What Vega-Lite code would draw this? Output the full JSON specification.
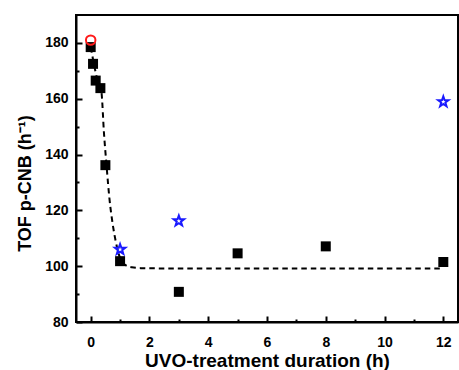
{
  "$schema": "https://vega.github.io/schema/vega-lite/v6.json",
  "width": 382,
  "height": 307,
  "autosize": "none",
  "padding": {"left": 76, "top": 15, "right": 1, "bottom": 48},
  "background": "white",
  "config": {
    "view": {"stroke": "black", "strokeWidth": 2},
    "font": "Liberation Sans",
    "axis": {
      "grid": false,
      "domainColor": "black",
      "domainWidth": 2,
      "tickColor": "black",
      "tickWidth": 2,
      "labelFont": "Liberation Sans",
      "labelFontWeight": "bold",
      "labelFontSize": 14,
      "labelColor": "black",
      "titleFont": "Liberation Sans",
      "titleFontWeight": "bold",
      "titleColor": "black"
    }
  },
  "datasets": {
    "squares": [
      {"t": 0, "tof": 178.5},
      {"t": 0.08, "tof": 172.5},
      {"t": 0.17, "tof": 166.5},
      {"t": 0.33, "tof": 163.8},
      {"t": 0.5, "tof": 136.2},
      {"t": 1, "tof": 101.8},
      {"t": 3, "tof": 90.8},
      {"t": 5, "tof": 104.6},
      {"t": 8, "tof": 107.1},
      {"t": 12, "tof": 101.5}
    ],
    "stars": [
      {"t": 1, "tof": 106},
      {"t": 3, "tof": 116.2},
      {"t": 12, "tof": 158.9}
    ],
    "circle": [
      {"t": 0, "tof": 181}
    ],
    "fit": [
      {"t": 0, "tof": 178.5},
      {"t": 0.1, "tof": 173},
      {"t": 0.2, "tof": 168},
      {"t": 0.3, "tof": 165},
      {"t": 0.37, "tof": 162},
      {"t": 0.45, "tof": 148},
      {"t": 0.54, "tof": 136},
      {"t": 0.64, "tof": 124},
      {"t": 0.75, "tof": 115},
      {"t": 0.85, "tof": 109},
      {"t": 0.95, "tof": 104.5},
      {"t": 1.05, "tof": 101.8},
      {"t": 1.2, "tof": 100.3},
      {"t": 1.4, "tof": 99.6},
      {"t": 1.7, "tof": 99.3},
      {"t": 2.5, "tof": 99.2},
      {"t": 12, "tof": 99.2}
    ],
    "minor": [
      {"t": 1, "tof": 90}
    ]
  },
  "resolve": {"axis": {"x": "independent", "y": "independent"}},
  "layer": [
    {
      "data": {"name": "minor"},
      "mark": {"type": "point", "opacity": 0},
      "encoding": {
        "x": {"field": "t", "type": "quantitative", "scale": {"domain": [-0.5, 12.5], "nice": false, "zero": false},
          "axis": {"orient": "bottom", "values": [1, 3, 5, 7, 9, 11], "labels": false, "domain": false, "tickSize": -3, "title": null}},
        "y": {"field": "tof", "type": "quantitative", "scale": {"domain": [80, 190], "nice": false, "zero": false},
          "axis": {"orient": "left", "values": [90, 110, 130, 150, 170], "labels": false, "domain": false, "tickSize": -3, "title": null}}
      }
    },
    {
      "data": {"name": "fit"},
      "mark": {"type": "line", "color": "black", "strokeWidth": 2, "strokeDash": [5.5, 4], "interpolate": "monotone"},
      "encoding": {
        "x": {"field": "t", "type": "quantitative", "scale": {"domain": [-0.5, 12.5], "nice": false, "zero": false},
          "axis": {"orient": "bottom", "values": [0, 2, 4, 6, 8, 10, 12], "tickSize": -6, "labelPadding": 19, "titleFontSize": 19, "titlePadding": 2, "title": "UVO-treatment duration (h)"}},
        "y": {"field": "tof", "type": "quantitative", "scale": {"domain": [80, 190], "nice": false, "zero": false},
          "axis": {"orient": "left", "values": [80, 100, 120, 140, 160, 180], "tickSize": -6, "labelPadding": 14, "titleFontSize": 18, "titlePadding": 10, "titleY": 168, "title": "TOF p-CNB (h⁻¹)"}}
      }
    },
    {
      "data": {"name": "squares"},
      "mark": {"type": "point", "shape": "square", "filled": true, "color": "black", "size": 100, "opacity": 1},
      "encoding": {
        "x": {"field": "t", "type": "quantitative", "axis": null},
        "y": {"field": "tof", "type": "quantitative", "axis": null}
      }
    },
    {
      "data": {"name": "stars"},
      "mark": {"type": "point", "shape": "M0,-1L0.235,-0.324L0.951,-0.309L0.380,0.124L0.588,0.809L0,0.4L-0.588,0.809L-0.380,0.124L-0.951,-0.309L-0.235,-0.324Z", "filled": false, "stroke": "#1a1aff", "strokeWidth": 2, "size": 120, "opacity": 1},
      "encoding": {
        "x": {"field": "t", "type": "quantitative", "axis": null},
        "y": {"field": "tof", "type": "quantitative", "axis": null}
      }
    },
    {
      "data": {"name": "circle"},
      "mark": {"type": "point", "shape": "circle", "filled": false, "stroke": "#ff1a1a", "strokeWidth": 2, "size": 90, "opacity": 1},
      "encoding": {
        "x": {"field": "t", "type": "quantitative", "axis": null},
        "y": {"field": "tof", "type": "quantitative", "axis": null}
      }
    }
  ]
}
